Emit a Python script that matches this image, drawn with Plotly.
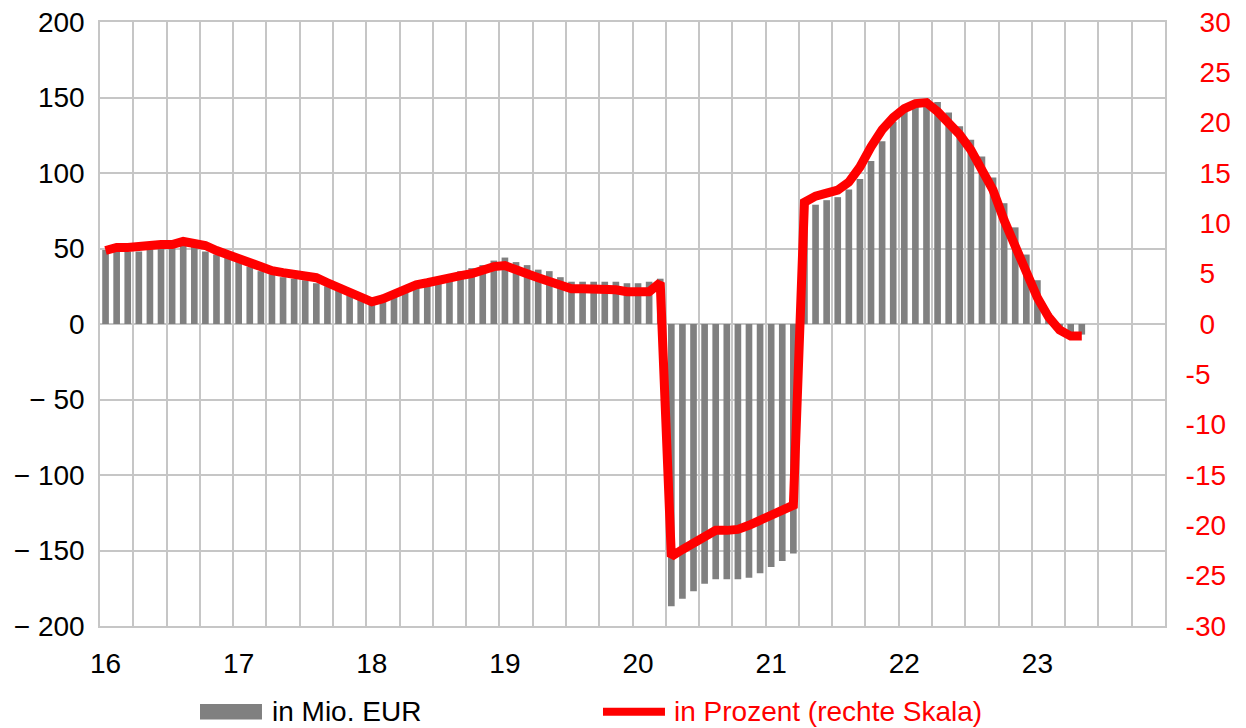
import numpy as np
import pandas as pd
import plotly.graph_objects as go

# Monthly series, January 2016 to May 2023
months = pd.period_range("2016-01", "2023-05", freq="M")

# Change in million EUR (left axis)
values_eur = [
    49, 48, 48, 48, 50, 50, 51, 53, 51, 48, 46, 44,            # 2016
    42, 38, 35, 33, 31, 30, 29, 27, 25, 23, 19, 16,            # 2017
    14, 17, 21, 24, 26, 29, 31, 33, 35, 37, 39, 42,            # 2018
    44, 41, 39, 36, 35, 31, 28, 28, 28, 28, 28, 27,            # 2019
    27, 28, 30, -187, -182, -177, -172, -169, -169, -169, -168, -165,  # 2020
    -161, -157, -152, 76, 79, 82, 84, 89, 96, 108, 121, 134,   # 2021
    141, 145, 149, 147, 140, 131, 122, 111, 97, 80, 64, 46,    # 2022
    29, 7, -2, -6, -7,                                         # 2023
]

# Change in percent (right axis)
values_pct = [
    7.3, 7.6, 7.6, 7.6, 7.8, 7.9, 7.9, 8.2, 8.0, 7.8, 7.3, 6.9,
    6.5, 6.0, 5.6, 5.3, 5.1, 4.9, 4.8, 4.6, 4.1, 3.6, 3.1, 2.6,
    2.2, 2.5, 3.0, 3.6, 3.9, 4.1, 4.4, 4.7, 4.8, 5.0, 5.4, 5.7,
    5.8, 5.5, 5.0, 4.6, 4.2, 3.8, 3.5, 3.5, 3.5, 3.5, 3.4, 3.2,
    3.2, 3.2, 4.1, -23.1, -22.4, -21.8, -21.0, -20.5, -20.5, -20.4, -20.0, -19.5,
    -19.0, -18.5, -18.0, 12.1, 12.7, 13.0, 13.3, 14.1, 15.6, 17.6, 19.3, 20.5,
    21.4, 21.9, 22.0, 21.1, 20.0, 18.8, 17.3, 15.5, 13.3, 10.3, 7.7, 5.0,
    2.6, 0.7, -0.6, -1.2, -1.2,
]

year_labels = ["16", "17", "18", "19", "20", "21", "22", "23"]
left_ticks = [200, 150, 100, 50, 0, -50, -100, -150, -200]
right_ticks = [30, 25, 20, 15, 10, 5, 0, -5, -10, -15, -20, -25, -30]

legend_bar = "in Mio. EUR"
legend_line = "in Prozent (rechte Skala)"

GREY_BAR = "#808080"
RED = "#FF0000"
GRID = "#C6C6C6"
FONT = "Liberation Sans, Arial, sans-serif"
FS = 28


def left_label(v):
    # wide minus sign for negative values
    return ("\u2212 " + str(-v)) if v < 0 else str(v)


def right_label(v):
    # positive values padded so the digits line up after the sign slot
    return str(v) if v < 0 else "\u2002" + str(v)


x = np.arange(len(months))
jan_pos = [i for i, m in enumerate(months) if m.month == 1]
n_axis_months = 96
quarter_edges = [q - 0.5 for q in range(0, n_axis_months + 1, 3)]

fig = go.Figure()
fig.add_trace(go.Bar(
    x=x, y=values_eur, name=legend_bar, marker_color=GREY_BAR,
    marker_line_width=0, width=0.6, yaxis="y", showlegend=False,
))
fig.add_trace(go.Scatter(
    x=x, y=values_pct, name=legend_line, mode="lines",
    line=dict(color=RED, width=9), yaxis="y2", showlegend=False,
))

fig.update_layout(
    width=1246, height=728,
    margin=dict(l=100, r=81, t=22, b=102, autoexpand=False),
    plot_bgcolor="white", paper_bgcolor="white",
    font=dict(family=FONT, size=FS, color="black"),
    xaxis=dict(
        range=[-0.5, n_axis_months - 0.5], automargin=False,
        tickmode="array", tickvals=jan_pos, ticktext=year_labels,
        showgrid=False, zeroline=False,
        ticks="outside", ticklen=12, tickcolor="rgba(0,0,0,0)",
        showline=True, linecolor=GRID, linewidth=1.5, mirror=True,
        minor=dict(tickmode="array", tickvals=quarter_edges, showgrid=True,
                   gridcolor=GRID, gridwidth=1.5, ticks=""),
        tickfont=dict(size=FS),
    ),
    yaxis=dict(
        range=[-200, 200], automargin=False,
        tickmode="array", tickvals=left_ticks,
        ticktext=[left_label(v) for v in left_ticks],
        showgrid=True, gridcolor=GRID, gridwidth=1.5,
        zeroline=False, showline=True, linecolor=GRID, linewidth=1.5, mirror=True,
        ticks="outside", ticklen=8, tickcolor="rgba(0,0,0,0)",
        tickfont=dict(size=FS, color="black"),
    ),
    yaxis2=dict(
        range=[-30, 30], overlaying="y", side="right", automargin=False,
        tickmode="array", tickvals=right_ticks,
        ticktext=[right_label(v) for v in right_ticks],
        showgrid=False, zeroline=False,
        ticks="outside", ticklen=14, tickcolor="rgba(0,0,0,0)",
        tickfont=dict(size=FS, color=RED),
    ),
    bargap=0.4,
)

# Legend drawn below the axis labels
leg_y = -0.142
fig.add_shape(type="rect", xref="paper", yref="paper",
              x0=0.0939, x1=0.1521, y0=leg_y - 0.013, y1=leg_y + 0.013,
              fillcolor=GREY_BAR, line_width=0)
fig.add_annotation(xref="paper", yref="paper", x=0.1596, y=leg_y,
                   text=legend_bar, showarrow=False, xanchor="left", yanchor="middle",
                   font=dict(size=FS, color="black"))
fig.add_shape(type="line", xref="paper", yref="paper",
              x0=0.4723, x1=0.5305, y0=leg_y, y1=leg_y,
              line=dict(color=RED, width=8))
fig.add_annotation(xref="paper", yref="paper", x=0.5371, y=leg_y,
                   text=legend_line, showarrow=False, xanchor="left", yanchor="middle",
                   font=dict(size=FS, color=RED))

fig.write_html("out.html")
